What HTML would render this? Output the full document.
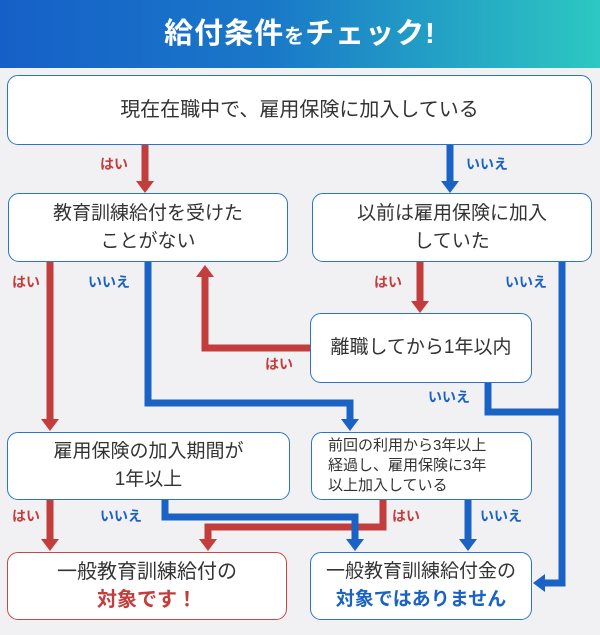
<!DOCTYPE html>
<html><head><meta charset="utf-8"><style>
*{margin:0;padding:0;box-sizing:border-box}
body{width:600px;height:635px;overflow:hidden;background:#f1f1f3;font-family:"Liberation Sans","Noto Sans CJK JP",sans-serif;position:relative;color:#333}
.hdr{position:absolute;left:0;top:0;width:600px;height:68px;background:linear-gradient(90deg,#1560c8 0%,#1a78c8 45%,#2cc8c2 100%);color:#fff;font-weight:bold;text-align:center;line-height:68px;font-size:29px;letter-spacing:1px}
.hdr small{font-size:20px}
.box{position:absolute;background:#fff;border:1.5px solid #2a74d0;border-radius:11px;display:flex;align-items:center;justify-content:center;text-align:center;font-size:19px;line-height:28px;color:#333}
.red{border-color:#c94646}
svg{position:absolute;left:0;top:0}
.lb{position:absolute;font-size:14px;font-weight:bold}
.r{color:#c43d3d}.b{color:#1a62c4}
</style></head><body>
<div class="hdr">給付条件<small>を</small>チェック!</div>
<svg width="600" height="635">
<g fill="none" stroke-width="7">
<path d="M145 145V182" stroke="#c43d3d"/>
<path d="M450 145V182" stroke="#1a62c4"/>
<path d="M50 262V420" stroke="#c43d3d"/>
<path d="M148 262V403H350V420" stroke="#1a62c4"/>
<path d="M420 262V302" stroke="#c43d3d"/>
<path d="M562 262V583H544" stroke="#1a62c4"/>
<path d="M310 348H205V276" stroke="#c43d3d"/>
<path d="M488 383V412H562" stroke="#1a62c4"/>
<path d="M50 500V540" stroke="#c43d3d"/>
<path d="M383 500V527H208V540" stroke="#c43d3d"/>
<path d="M165 500V517H355V540" stroke="#1a62c4"/>
<path d="M468 500V540" stroke="#1a62c4"/>
</g>
<g>
<path d="M136 181H154L145 193Z" fill="#c43d3d"/>
<path d="M441 181H459L450 193Z" fill="#1a62c4"/>
<path d="M41 419H59L50 431Z" fill="#c43d3d"/>
<path d="M341 419H359L350 431Z" fill="#1a62c4"/>
<path d="M411 301H429L420 313Z" fill="#c43d3d"/>
<path d="M545 574V592L533 583Z" fill="#1a62c4"/>
<path d="M196 277H214L205 265Z" fill="#c43d3d"/>
<path d="M41 539H59L50 551Z" fill="#c43d3d"/>
<path d="M199 539H217L208 551Z" fill="#c43d3d"/>
<path d="M346 539H364L355 551Z" fill="#1a62c4"/>
<path d="M459 539H477L468 551Z" fill="#1a62c4"/>
</g>
</svg>
<div class="box" style="left:7px;top:75px;width:585px;height:70px;font-size:20px"><span>現在在職中で、雇用保険に加入している</span></div>
<div class="box" style="left:8px;top:193px;width:280px;height:69px"><span>教育訓練給付を受けた<br>ことがない</span></div>
<div class="box" style="left:312px;top:193px;width:280px;height:69px"><span>以前は雇用保険に加入<br>していた</span></div>
<div class="box" style="left:310px;top:313px;width:222px;height:70px"><span>離職してから1年以内</span></div>
<div class="box" style="left:7px;top:432px;width:283px;height:68px"><span>雇用保険の加入期間が<br>1年以上</span></div>
<div class="box" style="left:311px;top:432px;width:221px;height:68px;font-size:15px;line-height:20px;text-align:left;justify-content:flex-start;padding-left:16px"><span>前回の利用から3年以上<br>経過し、雇用保険に3年<br>以上加入している</span></div>
<div class="box red" style="left:7px;top:552px;width:280px;height:68px;font-size:20px"><span>一般教育訓練給付の<br><b class="r">対象です！</b></span></div>
<div class="box" style="left:310px;top:552px;width:222px;height:68px;font-size:19px"><span>一般教育訓練給付金の<br><b class="b">対象ではありません</b></span></div>
<div class="lb r" style="left:100px;top:154px">はい</div>
<div class="lb b" style="left:466px;top:154px">いいえ</div>
<div class="lb r" style="left:12px;top:272px">はい</div>
<div class="lb b" style="left:88px;top:272px">いいえ</div>
<div class="lb r" style="left:374px;top:272px">はい</div>
<div class="lb b" style="left:505px;top:272px">いいえ</div>
<div class="lb r" style="left:265px;top:354px">はい</div>
<div class="lb b" style="left:428px;top:387px">いいえ</div>
<div class="lb r" style="left:12px;top:506px">はい</div>
<div class="lb b" style="left:100px;top:506px">いいえ</div>
<div class="lb r" style="left:392px;top:506px">はい</div>
<div class="lb b" style="left:480px;top:506px">いいえ</div>
</body></html>
